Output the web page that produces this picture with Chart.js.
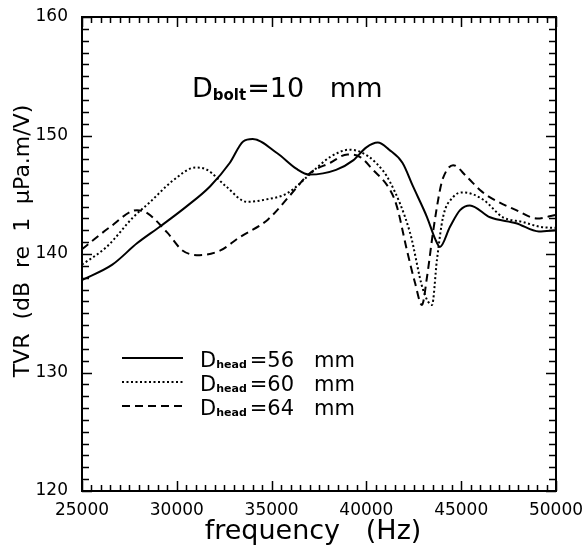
<!DOCTYPE html>
<html lang="en">
<head>
  <meta charset="UTF-8">
  <title>TVR vs frequency</title>
  <script src="https://cdn.jsdelivr.net/npm/chart.js"></script>
  <style>
    html, body { margin: 0; padding: 0; background: #fff; }
    #wrap { width: 582px; height: 547px; }
  </style>
</head>
<body>
  <div id="wrap"><canvas id="tvrChart" width="582" height="547"></canvas></div>

  <script>
    // frequency (Hz) and TVR (dB), one pair of arrays per head diameter
    const freq56 = [25000, 26600, 27900, 29100, 30500, 31750, 32800, 33500, 34000, 35300, 36300, 37000, 38400, 39300, 40000, 40600, 41200, 41900, 42460, 43200, 43620, 43880, 44410, 44940, 45460, 46520, 47900, 49100, 50000];
    const tvr56  = [137.8, 139.1, 140.9, 142.3, 144.0, 145.7, 147.7, 149.5, 149.7, 148.5, 147.2, 146.7, 147.1, 147.9, 149.0, 149.4, 148.8, 147.7, 145.7, 143.1, 141.3, 140.6, 142.3, 143.7, 144.1, 143.1, 142.6, 141.9, 142.0];

    const freq60 = [25000, 26300, 27700, 28600, 29800, 31000, 31600, 32600, 33700, 34700, 35800, 37000, 37400, 38100, 39100, 39700, 40500, 41240, 42300, 42985, 43460, 43720, 44040, 44570, 45100, 46150, 47200, 48250, 49150, 50000];
    const tvr60  = [139.1, 140.6, 143.1, 144.4, 146.2, 147.3, 147.1, 145.7, 144.4, 144.6, 145.1, 146.7, 147.3, 148.2, 148.8, 148.6, 147.7, 146.1, 141.8, 137.0, 135.7, 139.5, 143.1, 144.8, 145.2, 144.6, 143.1, 142.7, 142.3, 142.2];

    const freq64 = [25000, 26500, 27900, 28400, 29500, 30300, 31200, 32300, 33300, 34800, 36000, 37000, 38100, 39000, 39650, 40350, 41250, 41610, 42140, 42560, 42930, 43200, 43510, 43880, 44040, 44570, 45300, 45990, 46500, 47900, 49000, 50000];
    const tvr64  = [140.4, 142.3, 143.7, 143.5, 141.8, 140.3, 139.9, 140.3, 141.4, 142.9, 145.0, 146.8, 147.7, 148.4, 148.2, 147.1, 145.4, 144.0, 140.3, 137.6, 135.7, 138.1, 141.8, 145.4, 146.4, 147.5, 146.5, 145.4, 144.8, 143.7, 143.0, 143.3];

    const headSizes = ['56', '60', '64'];
    const dashes = [[], [2, 2.5], [8, 5]];
    const xTicks = [25000, 30000, 35000, 40000, 45000, 50000];
    const yTicks = [120, 130, 140, 150, 160];

    const FONT = 'DejaVu Sans';

    function pairs(xs, ys) {
      return xs.map((f, i) => ({ x: f, y: ys[i] }));
    }

    // draw a run of text pieces, each with its own font and vertical shift
    function drawRuns(ctx, x, y, runs) {
      let cx = x;
      runs.forEach(r => {
        ctx.font = r.font;
        ctx.fillText(r.t, cx, y + (r.dy || 0));
        cx += ctx.measureText(r.t).width + (r.gap || 0);
      });
    }

    // frame, inward ticks on all four sides, titles and legend
    const framePlugin = {
      id: 'frame',
      afterDraw(chart) {
        const { ctx, chartArea: a, scales: { x, y } } = chart;
        ctx.save();
        ctx.strokeStyle = '#000';
        ctx.fillStyle = '#000';
        ctx.lineWidth = 2;
        ctx.strokeRect(a.left, a.top, a.right - a.left, a.bottom - a.top);

        ctx.lineWidth = 1.5;
        ctx.beginPath();
        for (let v = x.min; v <= x.max; v += 500) {
          const p = Math.round(x.getPixelForValue(v)) + 0.5;
          const len = v % 5000 === 0 ? 10 : 6;
          ctx.moveTo(p, a.bottom); ctx.lineTo(p, a.bottom - len);
          ctx.moveTo(p, a.top); ctx.lineTo(p, a.top + len);
        }
        for (let v = y.min; v <= y.max; v += 1) {
          const p = Math.round(y.getPixelForValue(v)) + 0.5;
          const len = v % 10 === 0 ? 10 : 7;
          ctx.moveTo(a.left, p); ctx.lineTo(a.left + len, p);
          ctx.moveTo(a.right, p); ctx.lineTo(a.right - len, p);
        }
        ctx.stroke();

        // axis titles
        ctx.textBaseline = 'alphabetic';
        ctx.textAlign = 'center';
        ctx.font = '27px "' + FONT + '"';
        ctx.fillText('frequency   (Hz)', 313, 539);

        ctx.save();
        ctx.translate(29, 241);
        ctx.rotate(-Math.PI / 2);
        ctx.font = '22px "' + FONT + '"';
        ctx.fillText('TVR  (dB  re  1  \u03bcPa.m/V)', 0, 0);
        ctx.restore();

        // annotation
        ctx.textAlign = 'left';
        drawRuns(ctx, 192, 97, [
          { t: 'D', font: '27px "' + FONT + '"' },
          { t: 'bolt', font: 'bold 15px "' + FONT + '"', dy: 3, gap: 1 },
          { t: '=10', font: '27px "' + FONT + '"', gap: 0 },
          { t: '   mm', font: '27px "' + FONT + '"' }
        ]);

        // legend
        headSizes.forEach((h, i) => {
          const ly = 358 + i * 24;
          ctx.setLineDash(dashes[i]);
          ctx.lineWidth = 2;
          ctx.beginPath();
          ctx.moveTo(122, ly); ctx.lineTo(183, ly);
          ctx.stroke();
          ctx.setLineDash([]);
          drawRuns(ctx, 200, ly + 9, [
            { t: 'D', font: '21px "' + FONT + '"' },
            { t: 'head', font: 'bold 11px "' + FONT + '"', dy: 1, gap: 3 },
            { t: '=' + h, font: '21px "' + FONT + '"' },
            { t: '   mm', font: '21px "' + FONT + '"' }
          ]);
        });
        ctx.restore();
      }
    };

    const datasets = [pairs(freq56, tvr56), pairs(freq60, tvr60), pairs(freq64, tvr64)].map((d, i) => ({
      label: 'Dhead=' + headSizes[i] + ' mm',
      data: d,
      borderColor: '#000',
      borderWidth: 2,
      borderDash: dashes[i],
      pointRadius: 0,
      fill: false,
      cubicInterpolationMode: 'monotone'
    }));

    new Chart(document.getElementById('tvrChart'), {
      type: 'line',
      data: { datasets },
      options: {
        responsive: false,
        animation: false,
        layout: { padding: { left: 0, top: 17, right: 26, bottom: 0 } },
        plugins: { legend: { display: false }, tooltip: { enabled: false } },
        scales: {
          x: {
            type: 'linear',
            min: 25000,
            max: 50000,
            afterBuildTicks: s => { s.ticks = xTicks.map(v => ({ value: v })); },
            afterFit: s => { s.height = 56; s.paddingLeft = 0; s.paddingRight = 0; },
            grid: { display: false, drawTicks: false },
            border: { display: false },
            ticks: {
              color: '#000',
              font: { family: FONT, size: 17 },
              padding: 9,
              maxRotation: 0,
              autoSkip: false,
              callback: v => String(v)
            }
          },
          y: {
            min: 120,
            max: 160,
            afterBuildTicks: s => { s.ticks = yTicks.map(v => ({ value: v })); },
            afterFit: s => { s.width = 82; s.paddingTop = 0; s.paddingBottom = 0; },
            grid: { display: false, drawTicks: false },
            border: { display: false },
            ticks: {
              color: '#000',
              font: { family: FONT, size: 17 },
              padding: 14,
              callback: v => String(v)
            }
          }
        }
      },
      plugins: [framePlugin]
    });
  </script>
</body>
</html>
